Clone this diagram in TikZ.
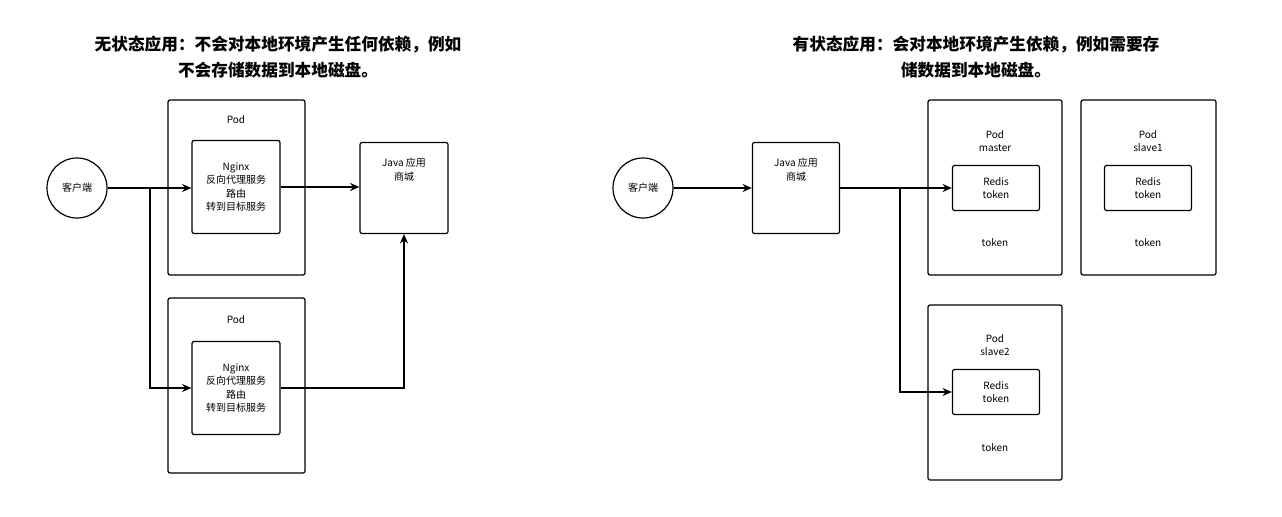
\documentclass[tikz,border=0pt]{standalone}
\usepackage{fontspec}
\setmainfont{Noto Sans CJK SC}
\usetikzlibrary{arrows.meta}
\begin{document}
\begin{tikzpicture}[x=0.75pt,y=-0.75pt,
  box/.style={draw,line width=0.9pt,rounded corners=1.5pt},
  lbl/.style={font=\fontsize{7.5}{10}\selectfont,align=center,inner sep=0pt},
  ttl/.style={font=\fontsize{12.5}{20}\selectfont\bfseries,align=center},
  arr/.style={line width=0.9pt,-{Stealth[length=7pt,width=6pt]}},
  ln/.style={line width=0.9pt}]
\useasboundingbox (0,0) rectangle (1282,517);
% left
\node[ttl] (t1) at (278,57) {无状态应用：不会对本地环境产生任何依赖，例如\\不会存储数据到本地磁盘。};
\node[draw,circle,line width=0.9pt,minimum size=60*0.75pt,lbl] (c1) at (77,188) {客户端};
\draw[box] (168,100) rectangle (305,275);
\node[lbl] (p1) at (236,120) {Pod};
\draw[box] (168,298) rectangle (305,473);
\node[lbl] (p2) at (236,320) {Pod};
\node[box,minimum width=88*0.75pt,minimum height=93*0.75pt,lbl] (n1) at (236,187) {Nginx\\反向代理服务\\路由\\转到目标服务};
\node[box,minimum width=88*0.75pt,minimum height=93*0.75pt,lbl] (n2) at (236,388) {Nginx\\反向代理服务\\路由\\转到目标服务};
\node[box,minimum width=88*0.75pt,minimum height=91*0.75pt,lbl] (j1) at (404,188) {Java 应用\\商城\\[18pt]};
\coordinate (b1) at (150,188);
\draw[arr] (c1) -- (n1.west|-c1);
\draw[arr] (b1) |- (n2.west);
\draw[arr] (n1.east) -- (j1.west|-n1.east);
\draw[arr] (n2.east) -| (j1.south);
% right
\node[ttl] (t2) at (976,57) {有状态应用：会对本地环境产生依赖，例如需要存\\储数据到本地磁盘。};
\node[draw,circle,line width=0.9pt,minimum size=60*0.75pt,lbl] (c2) at (643,188) {客户端};
\node[box,minimum width=87*0.75pt,minimum height=91*0.75pt,lbl] (j2) at (796,188) {Java 应用\\商城\\[18pt]};
\draw[box] (928,100) rectangle (1062,275);
\node[lbl] (pm) at (995,141) {Pod\\master};
\node[lbl] (tk1) at (995,243) {token};
\draw[box] (1081,100) rectangle (1216,275);
\node[lbl] (ps1) at (1148,141) {Pod\\slave1};
\node[lbl] (tk2) at (1148,243) {token};
\draw[box] (928,305) rectangle (1062,480);
\node[lbl] (ps2) at (995,345) {Pod\\slave2};
\node[lbl] (tk3) at (995,448) {token};
\node[box,minimum width=87*0.75pt,minimum height=45*0.75pt,lbl] (r1) at (996,188) {Redis\\token};
\node[box,minimum width=87*0.75pt,minimum height=45*0.75pt,lbl] (r2) at (1148,188) {Redis\\token};
\node[box,minimum width=87*0.75pt,minimum height=45*0.75pt,lbl] (r3) at (996,392) {Redis\\token};
\coordinate (b2) at (900,188);
\draw[arr] (c2) -- (j2.west|-c2);
\draw[arr] (j2.east) -- (r1.west);
\draw[arr] (b2) |- (r3.west);
\end{tikzpicture}
\end{document}
